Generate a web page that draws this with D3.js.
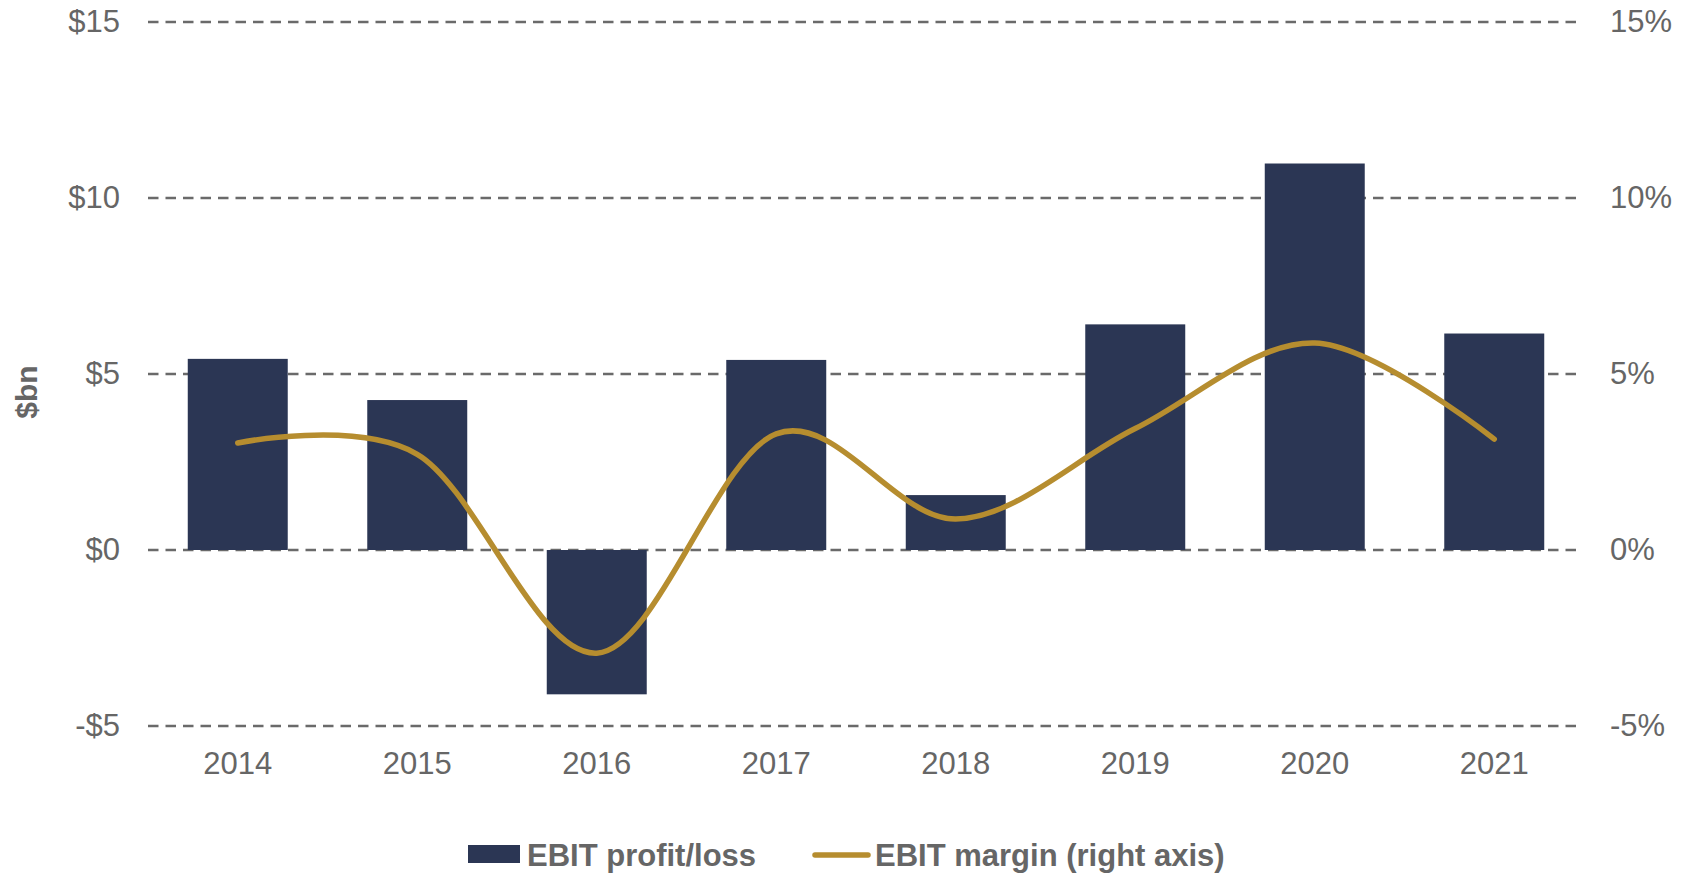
<!DOCTYPE html>
<html>
<head>
<meta charset="utf-8">
<script src="https://cdn.jsdelivr.net/npm/d3@7"></script>
<style>
  body { margin: 0; background: #fff; }
  svg { display: block; font-family: "Liberation Sans", Arial, sans-serif; }
</style>
</head>
<body>
<svg id="chart" width="1690" height="874"></svg>
<script>
const years = ['2014', '2015', '2016', '2017', '2018', '2019', '2020', '2021'];
const ebit = [5.43, 4.26, -4.1, 5.4, 1.56, 6.41, 10.98, 6.15]; // $bn
const margin = [3.04, 2.72, -2.93, 3.3, 0.88, 3.45, 5.88, 3.15]; // %
const leftTicks = [-5, 0, 5, 10, 15];
const rightTicks = [-5, 0, 5, 10, 15];

const navy = '#2b3654';
const gold = '#b68d2f';
const grey = '#666666';

const svg = d3.select('#chart');

const x = d3.scaleBand()
  .domain(years)
  .range([148, 1584])
  .paddingInner(0.443)
  .paddingOuter(0.2215);

const y = d3.scaleLinear().domain([-5, 15]).range([726, 22]);
const yR = d3.scaleLinear().domain([-5, 15]).range([726, 22]); // percent axis

// dashed gridlines
svg.append('g')
  .selectAll('line')
  .data(leftTicks)
  .join('line')
  .attr('x1', 148)
  .attr('x2', 1577)
  .attr('y1', d => y(d))
  .attr('y2', d => y(d))
  .attr('stroke', '#6a6a6a')
  .attr('stroke-width', 2.5)
  .attr('stroke-dasharray', '10.5,7');

// bars
svg.append('g')
  .selectAll('rect')
  .data(ebit)
  .join('rect')
  .attr('x', (d, i) => x(years[i]))
  .attr('width', x.bandwidth())
  .attr('y', d => y(Math.max(0, d)))
  .attr('height', d => Math.abs(y(d) - y(0)))
  .attr('fill', navy);

// margin line (smoothed like the spreadsheet)
const line = d3.line()
  .x((d, i) => x(years[i]) + x.bandwidth() / 2)
  .y(d => yR(d))
  .curve(d3.curveCardinal.tension(0));

svg.append('path')
  .datum(margin)
  .attr('d', line)
  .attr('fill', 'none')
  .attr('stroke', gold)
  .attr('stroke-width', 5.5)
  .attr('stroke-linecap', 'round');

// axes
const styleAxis = g => {
  g.select('.domain').remove();
  g.selectAll('text')
    .attr('fill', grey)
    .attr('font-size', '31px')
    .attr('font-family', '"Liberation Sans", Arial, sans-serif');
};

svg.append('g')
  .attr('transform', 'translate(148,0)')
  .call(d3.axisLeft(y)
    .tickValues(leftTicks)
    .tickFormat(d => d < 0 ? '-$' + (-d) : '$' + d)
    .tickSize(0)
    .tickPadding(28))
  .call(styleAxis);

svg.append('g')
  .attr('transform', 'translate(1577,0)')
  .call(d3.axisRight(yR)
    .tickValues(rightTicks)
    .tickFormat(d => d + '%')
    .tickSize(0)
    .tickPadding(33))
  .call(styleAxis);

svg.append('g')
  .attr('transform', 'translate(0,726)')
  .call(d3.axisBottom(x).tickSize(0).tickPadding(26))
  .call(styleAxis);

// y axis title
svg.append('text')
  .attr('transform', 'translate(37,392) rotate(-90)')
  .attr('text-anchor', 'middle')
  .attr('fill', grey)
  .attr('font-size', '30px')
  .attr('font-weight', 'bold')
  .text('$bn');

// legend
const legend = svg.append('g');
legend.append('rect')
  .attr('x', 468).attr('y', 845)
  .attr('width', 52).attr('height', 18)
  .attr('fill', navy);
legend.append('text')
  .attr('x', 527).attr('y', 866)
  .attr('fill', grey)
  .attr('font-size', '31px')
  .attr('font-weight', 'bold')
  .text('EBIT profit/loss');
legend.append('line')
  .attr('x1', 815).attr('x2', 868)
  .attr('y1', 855).attr('y2', 855)
  .attr('stroke', gold)
  .attr('stroke-width', 5.5)
  .attr('stroke-linecap', 'round');
legend.append('text')
  .attr('x', 875).attr('y', 866)
  .attr('fill', grey)
  .attr('font-size', '31px')
  .attr('font-weight', 'bold')
  .text('EBIT margin (right axis)');
</script>
</body>
</html>
